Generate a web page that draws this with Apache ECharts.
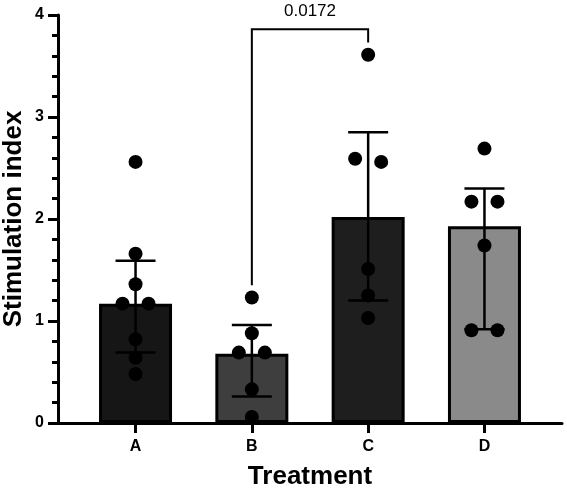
<!DOCTYPE html>
<html>
<head>
<meta charset="utf-8">
<script src="https://cdn.jsdelivr.net/npm/echarts@6/dist/echarts.min.js"></script>
<style>
html, body { margin: 0; padding: 0; background: #fff; }
#chart { width: 567px; height: 490px; }
</style>
</head>
<body>
<div id="chart"></div>
<script>
// values
var categories = ['A', 'B', 'C', 'D'];
var barMeans = [1.17, 0.68, 2.02, 1.93];
var errHigh = [1.59, 0.96, 2.85, 2.30];
var errLow = [0.69, 0.26, 1.20, 0.92];
var barColors = ['#161616', '#3e3e3e', '#1e1e1e', '#8a8a8a'];

var pointsA = [2.56, 1.66, 1.36, 1.17, 1.17, 0.82, 0.64, 0.48];
var pointsB = [1.23, 0.88, 0.69, 0.69, 0.33, 0.06];
var pointsC = [3.61, 2.59, 2.56, 1.51, 1.25, 1.03];
var pointsD = [2.69, 2.17, 2.17, 1.74, 0.91, 0.91];

// significance bracket B vs C
var sigFrom = 2, sigTo = 3;
var sigLabel = '0.0172';
var sigTop = 3.86;
var sigEnds = [1.35, 3.73];

var FONT = '"Liberation Sans", Arial, sans-serif';

var chart = echarts.init(document.getElementById('chart'));

// dots that overlap get pushed sideways, like prism does
function spread(vals, x) {
    var out = [];
    var sorted = vals.slice().sort(function (a, b) { return b - a; });
    var i = 0;
    while (i < sorted.length) {
        var j = i;
        while (j + 1 < sorted.length && sorted[i] - sorted[j + 1] < 0.1) j++;
        var n = j - i + 1;
        for (var k = 0; k < n; k++) {
            var off = n === 1 ? 0 : (k - (n - 1) / 2) * 0.224;
            out.push([x + off, sorted[i + k]]);
        }
        i = j + 1;
    }
    return out;
}

var dots = [].concat(
    spread(pointsA, 1), spread(pointsB, 2), spread(pointsC, 3), spread(pointsD, 4)
);

var barData = barMeans.map(function (v, i) {
    return { value: [i + 1, v], itemStyle: { color: barColors[i] } };
});
var errData = categories.map(function (c, i) {
    return [i + 1, errHigh[i], errLow[i]];
});

var option = {
    animation: false,
    grid: { left: 58, right: 5, top: 15, bottom: 67, containLabel: false, outerBoundsMode: 'none' },
    xAxis: {
        type: 'value',
        min: 1 / 3,
        max: 14 / 3,
        name: 'Treatment',
        nameLocation: 'middle',
        nameGap: 41,
        nameMoveOverlap: false,
        nameTextStyle: { fontFamily: FONT, fontWeight: 'bold', fontSize: 26, color: '#000' },
        axisLine: { lineStyle: { color: '#000', width: 3 } },
        axisTick: { customValues: [1, 2, 3, 4], length: 10, lineStyle: { color: '#000', width: 3 } },
        axisLabel: {
            customValues: [1, 2, 3, 4],
            margin: 16,
            fontFamily: FONT, fontWeight: 'bold', fontSize: 16, color: '#000',
            formatter: function (v) { return categories[Math.round(v) - 1]; }
        },
        splitLine: { show: false }
    },
    yAxis: {
        type: 'value',
        min: 0,
        max: 4,
        interval: 1,
        name: 'Stimulation index',
        nameLocation: 'middle',
        nameGap: 31,
        nameMoveOverlap: false,
        nameTextStyle: { fontFamily: FONT, fontWeight: 'bold', fontSize: 26, color: '#000' },
        axisLine: { show: true, lineStyle: { color: '#000', width: 3 } },
        axisTick: { show: true, length: 10, lineStyle: { color: '#000', width: 3 } },
        minorTick: { show: true, splitNumber: 5, length: 6, lineStyle: { color: '#000', width: 3 } },
        axisLabel: { margin: 14, fontFamily: FONT, fontWeight: 'bold', fontSize: 16, color: '#000' },
        splitLine: { show: false }
    },
    series: [
        {
            type: 'bar',
            data: barData,
            barWidth: 73,
            itemStyle: { borderColor: '#000', borderWidth: 3 },
            z: 2
        },
        {
            type: 'custom',
            data: errData,
            z: 3,
            renderItem: function (params, api) {
                var top = api.coord([api.value(0), api.value(1)]);
                var bot = api.coord([api.value(0), api.value(2)]);
                var st = { stroke: '#000', lineWidth: 2.5 };
                return {
                    type: 'group',
                    children: [
                        { type: 'line', shape: { x1: top[0], y1: top[1], x2: bot[0], y2: bot[1] }, style: st },
                        { type: 'line', shape: { x1: top[0] - 20, y1: top[1], x2: top[0] + 20, y2: top[1] }, style: st },
                        { type: 'line', shape: { x1: bot[0] - 20, y1: bot[1], x2: bot[0] + 20, y2: bot[1] }, style: st }
                    ]
                };
            }
        },
        {
            type: 'scatter',
            data: dots,
            symbol: 'circle',
            symbolSize: 14,
            itemStyle: { color: '#000', opacity: 1 },
            z: 4
        },
        {
            type: 'custom',
            data: [[sigFrom, sigTo, sigTop, sigEnds[0], sigEnds[1]]],
            clip: false,
            z: 5,
            renderItem: function (params, api) {
                var a = api.coord([api.value(0), api.value(3)]);
                var b = api.coord([api.value(0), api.value(2)]);
                var c = api.coord([api.value(1), api.value(2)]);
                var d = api.coord([api.value(1), api.value(4)]);
                return {
                    type: 'group',
                    children: [
                        {
                            type: 'polyline',
                            shape: { points: [a, b, c, d] },
                            style: { stroke: '#000', lineWidth: 2, fill: null }
                        },
                        {
                            type: 'text',
                            x: (b[0] + c[0]) / 2,
                            y: b[1] - 9,
                            style: {
                                text: sigLabel,
                                fontFamily: FONT, fontSize: 17, fill: '#000',
                                align: 'center', verticalAlign: 'bottom'
                            }
                        }
                    ]
                };
            }
        }
    ]
};

chart.setOption(option);
</script>
</body>
</html>
